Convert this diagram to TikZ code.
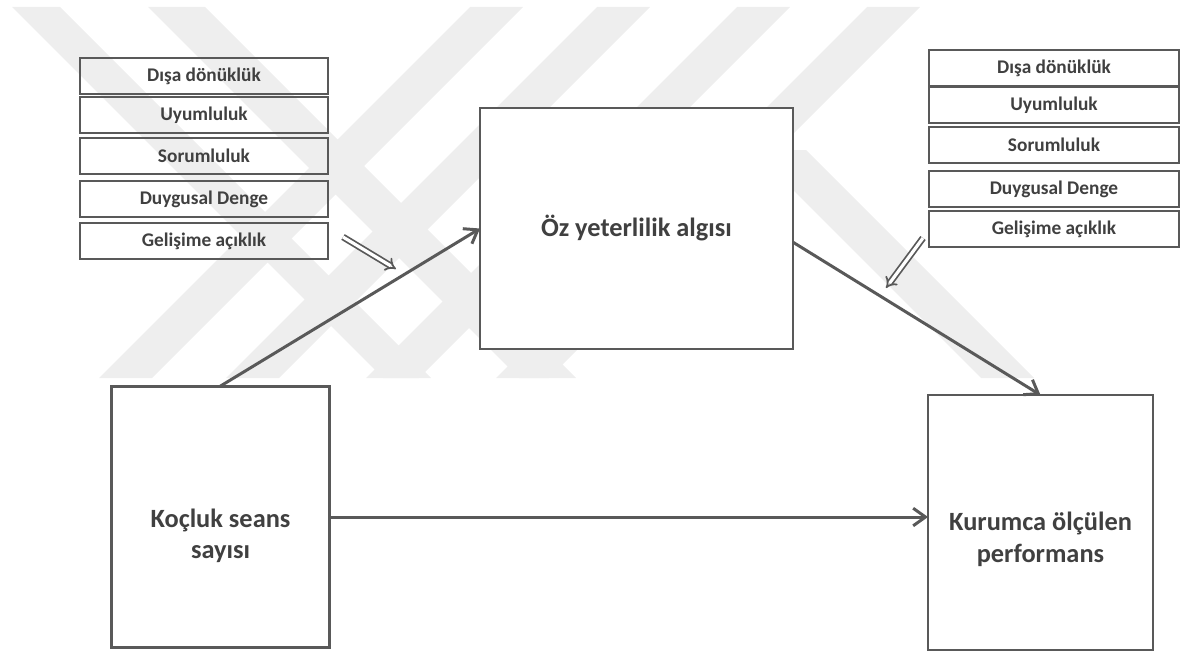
\documentclass[tikz,border=0pt]{standalone}
\usepackage{fontspec}
\setmainfont{Carlito}
\usepackage{xcolor}
\usetikzlibrary{arrows.meta, positioning}

\definecolor{linegray}{HTML}{595959}
\definecolor{textgray}{HTML}{404040}
\definecolor{wmgray}{HTML}{EEEEEE}

\begin{document}
\begin{tikzpicture}[
  x=0.02cm, y=-0.02cm,
  trait/.style={rectangle, draw=linegray, line width=0.8pt, inner sep=0pt, outer sep=0pt,
                minimum width=4.96cm, minimum height=0.72cm,
                font=\bfseries\fontsize{11}{13}\selectfont, text=textgray},
  bigbox/.style={rectangle, draw=linegray, inner sep=0pt, outer sep=0pt},
  bigtext/.style={font=\bfseries\fontsize{15}{18}\selectfont, text=textgray, align=center},
  arr/.style={-{Straight Barb[length=7pt, width=10pt]}, draw=linegray, line width=1.7pt},
  hint/.style={-{Implies}, draw=linegray, line width=1pt, double=white, double distance=1.8pt}
]
\useasboundingbox (0,0) rectangle (1185,652);

% watermark stripes
\fill[wmgray] (12,7) -- (60,7) -- (431,378) -- (383,378) -- cycle;
\fill[wmgray] (148,7) -- (205,7) -- (576,378) -- (519,378) -- cycle;
\fill[wmgray] (470,7) -- (523,7) -- (152,378) -- (99,378) -- cycle;
\fill[wmgray] (597,7) -- (650,7) -- (279,378) -- (226,378) -- cycle;
\fill[wmgray] (737,7) -- (790,7) -- (419,378) -- (366,378) -- cycle;
\fill[wmgray] (867,7) -- (920,7) -- (549,378) -- (496,378) -- cycle;
\fill[wmgray] (753,150) -- (806,150) -- (1034,378) -- (981,378) -- cycle;

% personality traits, left
\node[trait, anchor=north west] (lopen) at (80,58) {Dışa dönüklük};
\node[trait, below=0.06cm of lopen]  (lagree) {Uyumluluk};
\node[trait, below=0.1cm of lagree]  (lcons)  {Sorumluluk};
\node[trait, below=0.14cm of lcons]  (lneuro) {Duygusal Denge};
\node[trait, below=0.12cm of lneuro] (lgrow)  {Gelişime açıklık};

% personality traits, right
\node[trait, anchor=north west, minimum width=5cm] (ropen) at (929,50) {Dışa dönüklük};
\node[trait, minimum width=5cm, below=0.02cm of ropen]  (ragree) {Uyumluluk};
\node[trait, minimum width=5cm, below=0.08cm of ragree] (rcons)  {Sorumluluk};
\node[trait, minimum width=5cm, below=0.16cm of rcons]  (rneuro) {Duygusal Denge};
\node[trait, minimum width=5cm, below=0.08cm of rneuro] (rgrow)  {Gelişime açıklık};

% main variables
\node[bigbox, fill=white, line width=1.4pt, minimum width=6.26cm, minimum height=4.82cm,
      bigtext] (self) at (636.5,228.5) {Öz yeterlilik algısı};
\node[bigbox, line width=1.7pt, minimum width=4.38cm, minimum height=5.24cm] (coach) at (220.5,517) {};
\node[bigtext] (coachtxt) at ([yshift=-0.38cm]coach.center) {Koçluk seans\\sayısı};
\node[bigbox, line width=0.8pt, minimum width=4.5cm, minimum height=5.1cm] (perf) at (1040.5,522.5) {};
\node[bigtext] (perftxt) at ([yshift=-0.34cm]perf.center) {Kurumca ölçülen\\performans};

\draw[arr] (coach.north) -- (self.west);
\draw[arr] (self.-5) -- (perf.north);
\draw[arr] (coach.east) -- (coach.east -| perf.west);

% moderator hints
\coordinate (lhint) at (343,237);
\coordinate (lhinttip) at (396,269);
\coordinate (rhint) at (923,238);
\coordinate (rhinttip) at (886,288);
\draw[hint] (lhint) -- (lhinttip);
\draw[hint] (rhint) -- (rhinttip);
\end{tikzpicture}
\end{document}
